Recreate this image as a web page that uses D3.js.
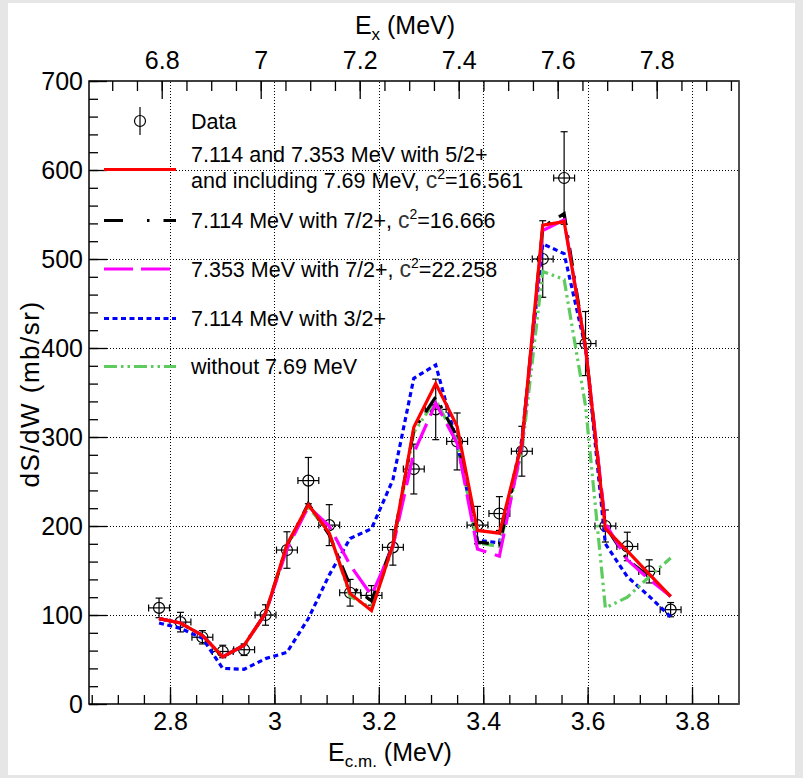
<!DOCTYPE html>
<html>
<head>
<meta charset="utf-8">
<script src="https://cdn.jsdelivr.net/npm/d3@7"></script>
<style>
  body { margin: 0; background: #e6e6e6; }
  svg { display: block; }
  text { font-family: "Liberation Sans", Arial, sans-serif; fill: #000; }
</style>
</head>
<body>
<svg id="chart" width="803" height="778"></svg>
<script>
// measured energies (E c.m., MeV) of the data points / model vertices
const energy = [2.779, 2.820, 2.862, 2.901, 2.942, 2.983, 3.024, 3.065, 3.105, 3.145, 3.186, 3.227, 3.267,
                3.309, 3.350, 3.389, 3.431, 3.474, 3.514, 3.555, 3.596, 3.634, 3.676, 3.718, 3.759];
const dataY   = [108, 92, 75, 59, 61, 100, 173, 251, 201, 125, 122, 176, 264,
                 331, 295, 201, 214, 284, 500, 591, 405, 200, 177, 149, 106];
const dataErr = [11, 11, 7.5, 7, 6.5, 11.5, 20.5, 26, 23, 15, 11, 20, 28,
                 34, 32, 21, 19, 28, 43, 52, 36, 18, 16, 13, 8];
const energyErr = 0.02;

// model curves
const fit52     = [96, 91, 77, 53, 66, 102, 179, 224, 192, 124, 105, 179, 311,
                   360, 312, 195, 192, 293, 538, 542, 401, 197, 172, 146, 121];
const fit72a    = [96, 91, 77, 53, 66, 102, 178, 225, 190, 133, 116, 180, 308,
                   345, 300, 182, 179, 290, 536, 551, 400, 200, 162, 143, 121];
const fit72b    = [96, 91, 77, 53, 66, 102, 174, 222, 200, 156, 122, 177, 282,
                   338, 293, 174, 166, 290, 532, 544, 400, 203, 162, 140, 121];
const fit32     = [91, 85, 74, 40, 39, 51, 58, 96, 145, 186, 197, 252, 366,
                   381, 293, 184, 181, 297, 517, 506, 400, 180, 143, 121, 98];
const no769     = [96, 91, 77, 53, 66, 102, 177, 221, 193, 121, 108, 176, 305,
                   342, 295, 181, 177, 283, 486, 477, 335, 108, 120, 143, 164];

const bottomTicks = [2.8, 3.0, 3.2, 3.4, 3.6, 3.8];
const topTicks = [6.8, 7.0, 7.2, 7.4, 7.6, 7.8];
const yTicks = [0, 100, 200, 300, 400, 500, 600, 700];

const svg = d3.select("#chart");
const W = 803, H = 778;
const margin = {left: 89, right: 64, top: 81, bottom: 74};

svg.append("rect").attr("x", 8).attr("y", 3).attr("width", 787).attr("height", 772).attr("fill", "#fff");

const x = d3.scaleLinear().domain([2.6448, 3.8900]).range([margin.left, W - margin.right]);
const xTop = d3.scaleLinear().domain([6.6531, 7.9663]).range([margin.left, W - margin.right]);
const y = d3.scaleLinear().domain([0, 700]).range([H - margin.bottom, margin.top]);

const x0 = margin.left, x1 = W - margin.right, y0 = H - margin.bottom, y1 = margin.top;

// grid
const grid = svg.append("g").attr("stroke", "#000").attr("stroke-width", 1).attr("stroke-dasharray", "1,2");
grid.selectAll("line.v").data(bottomTicks).join("line")
  .attr("x1", d => Math.round(x(d)) + 0.5).attr("x2", d => Math.round(x(d)) + 0.5)
  .attr("y1", y0).attr("y2", y1);
grid.selectAll("line.h").data(yTicks.filter(d => d > 0 && d < 700)).join("line")
  .attr("x1", x0).attr("x2", x1)
  .attr("y1", d => Math.round(y(d)) + 0.5).attr("y2", d => Math.round(y(d)) + 0.5);

// minor tick helpers
function minors(step, lo, hi) {
  const out = [];
  for (let v = Math.ceil(lo / step) * step; v <= hi; v += step) out.push(+v.toFixed(4));
  return out;
}

// bottom axis
const gB = svg.append("g").attr("transform", `translate(0,${y0})`);
gB.call(d3.axisBottom(x).tickValues(minors(0.05, 2.65, 3.89)).tickSizeInner(-9).tickSizeOuter(0).tickFormat(""));
gB.append("g").call(d3.axisBottom(x).tickValues(bottomTicks).tickSizeInner(-17).tickSizeOuter(0).tickPadding(8)
  .tickFormat(d => d3.format("~g")(d)));

// top axis
const gT = svg.append("g").attr("transform", `translate(0,${y1})`);
gT.call(d3.axisTop(xTop).tickValues(minors(0.05, 6.66, 7.96)).tickSizeInner(-10).tickSizeOuter(0).tickFormat(""));
gT.append("g").call(d3.axisTop(xTop).tickValues(topTicks).tickSizeInner(-18).tickSizeOuter(0).tickPadding(12)
  .tickFormat(d => d3.format("~g")(d)));

// left axis
const gL = svg.append("g").attr("transform", `translate(${x0},0)`);
gL.call(d3.axisLeft(y).tickValues(minors(20, 0, 700)).tickSizeInner(-9).tickSizeOuter(0).tickFormat(""));
gL.append("g").call(d3.axisLeft(y).tickValues(yTicks).tickSizeInner(-18).tickSizeOuter(0).tickPadding(6));

svg.selectAll(".tick text").attr("font-size", 25).attr("font-family", "Liberation Sans, Arial, sans-serif");
svg.selectAll(".domain").remove();
svg.selectAll(".tick line").attr("stroke", "#000").attr("stroke-width", 1.3);

// frame
svg.append("rect").attr("x", x0).attr("y", y1).attr("width", x1 - x0).attr("height", y0 - y1)
  .attr("fill", "none").attr("stroke", "#000").attr("stroke-width", 1.5);
svg.append("line").attr("x1", x1).attr("x2", x1).attr("y1", y1).attr("y2", y0).attr("stroke", "#555").attr("stroke-width", 1.5);

// data points
const pts = energy.map((e, i) => ({e, v: dataY[i], err: dataErr[i]}));
const gD = svg.append("g").attr("stroke", "#000").attr("stroke-width", 1.2).attr("fill", "none");
const cap = 3.5;
pts.forEach(p => {
  const cx = x(p.e), cy = y(p.v);
  const yl = y(p.v - p.err), yh = y(p.v + p.err);
  const xl = x(p.e - energyErr), xh = x(p.e + energyErr);
  gD.append("line").attr("x1", cx).attr("x2", cx).attr("y1", yl).attr("y2", yh);
  gD.append("line").attr("x1", cx - cap).attr("x2", cx + cap).attr("y1", yl).attr("y2", yl);
  gD.append("line").attr("x1", cx - cap).attr("x2", cx + cap).attr("y1", yh).attr("y2", yh);
  gD.append("line").attr("x1", xl).attr("x2", xh).attr("y1", cy).attr("y2", cy);
  gD.append("line").attr("x1", xl).attr("x2", xl).attr("y1", cy - cap).attr("y2", cy + cap);
  gD.append("line").attr("x1", xh).attr("x2", xh).attr("y1", cy - cap).attr("y2", cy + cap);
  gD.append("circle").attr("cx", cx).attr("cy", cy).attr("r", 5.5);
});

// curves
const styles = [
  {vals: fit32,  color: "#0000ff", dash: "5,3.5"},
  {vals: no769,  color: "#5ecb5e", dash: "12,4,2.5,4,2.5,4"},
  {vals: fit72a, color: "#000000", dash: "18,10,3,10"},
  {vals: fit72b, color: "#ff00ff", dash: "28,9"},
  {vals: fit52,  color: "#ff0000", dash: null}
];
const line = d3.line().x((d, i) => x(energy[i])).y(d => y(d));
styles.forEach(s => {
  svg.append("path").datum(s.vals).attr("d", line)
    .attr("fill", "none").attr("stroke", s.color).attr("stroke-width", 3.2)
    .attr("stroke-dasharray", s.dash);
});

// legend
const leg = svg.append("g");
const fs = 21.5;
leg.append("line").attr("x1", 140).attr("x2", 140).attr("y1", 107).attr("y2", 135).attr("stroke", "#000").attr("stroke-width", 1.2);
leg.append("circle").attr("cx", 140).attr("cy", 121).attr("r", 5.5).attr("fill", "none").attr("stroke", "#000").attr("stroke-width", 1.2);
leg.append("text").attr("x", 191).attr("y", 129).attr("font-size", fs).text("Data");

const entries = [
  {ly: 169.5, color: "#ff0000", dash: null, lines: [["7.114 and 7.353 MeV with 5/2+", null, 162], ["and including 7.69 MeV, ", "=16.561", 188]]},
  {ly: 220.5, color: "#000000", dash: "19,24,2.5,14", lines: [["7.114 MeV with 7/2+, ", "=16.666", 228]]},
  {ly: 269, color: "#ff00ff", dash: "29,8", lines: [["7.353 MeV with 7/2+, ", "=22.258", 277]]},
  {ly: 318.5, color: "#0000ff", dash: "5,3.5", lines: [["7.114 MeV with 3/2+", null, 326]]},
  {ly: 366.5, color: "#5ecb5e", dash: "13,4,2.5,4,2.5,4", lines: [["without 7.69 MeV", null, 374]]}
];
entries.forEach(en => {
  leg.append("line").attr("x1", 104).attr("x2", 176).attr("y1", en.ly).attr("y2", en.ly)
    .attr("stroke", en.color).attr("stroke-width", 3.2).attr("stroke-dasharray", en.dash);
  en.lines.forEach(([t, chi, by]) => {
    const tx = leg.append("text").attr("x", 191).attr("y", by).attr("font-size", fs);
    tx.append("tspan").text(t);
    if (chi) {
      tx.append("tspan").attr("fill", "#333").attr("font-size", 23).text("c");
      tx.append("tspan").attr("font-size", 14).attr("dy", -9).text("2");
      tx.append("tspan").attr("dy", 9).text(chi);
    }
  });
});

// axis titles
const tTop = svg.append("text").attr("x", 405).attr("y", 34).attr("text-anchor", "middle").attr("font-size", 25);
tTop.append("tspan").text("E");
tTop.append("tspan").attr("font-size", 17).attr("dy", 6).text("x");
tTop.append("tspan").attr("dy", -6).text(" (MeV)");

const tBot = svg.append("text").attr("x", 390).attr("y", 761).attr("text-anchor", "middle").attr("font-size", 25);
tBot.append("tspan").text("E");
tBot.append("tspan").attr("font-size", 17).attr("dy", 6).text("c.m.");
tBot.append("tspan").attr("dy", -6).text(" (MeV)");

svg.append("text").attr("transform", "translate(39,394) rotate(-90)").attr("text-anchor", "middle")
  .attr("font-size", 26).attr("letter-spacing", 1.5).text("dS/dW (mb/sr)");
</script>
</body>
</html>
